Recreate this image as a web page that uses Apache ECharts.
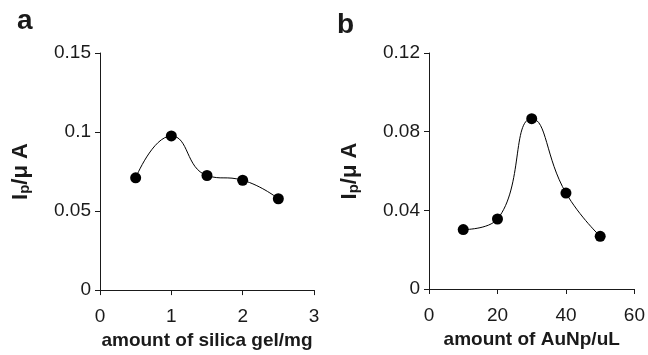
<!DOCTYPE html>
<html>
<head>
<meta charset="utf-8">
<script src="https://cdn.jsdelivr.net/npm/echarts@6/dist/echarts.min.js"></script>
<style>
  html, body { margin: 0; padding: 0; background: #fff; }
  #chart { width: 648px; height: 355px; }
</style>
</head>
<body>
<div id="chart"></div>
<script>
// panel a: silica gel
const silicaX = [0.5, 1, 1.5, 2, 2.5];
const silicaIp = [0.071, 0.0975, 0.0725, 0.0695, 0.0578];
// panel b: AuNp
const aunpX = [10, 20, 30, 40, 50];
const aunpIp = [0.0302, 0.0356, 0.0866, 0.0488, 0.0268];

const font = "Liberation Sans, Arial, sans-serif";
const ink = "#1a1a1a";

const ipName = "{i|I}{p|p}{i|/\u03bc A}";
const ipRich = {
  i: { fontSize: 22, fontWeight: "bold", fontFamily: font, color: ink },
  p: { fontSize: 15, fontWeight: "bold", fontFamily: font, color: ink, verticalAlign: "bottom", padding: [8, 0, 0, 0] },
};

function xAxisCfg(idx, max, interval, name) {
  return {
    type: "value",
    gridIndex: idx,
    min: 0,
    max: max,
    interval: interval,
    name: name,
    nameLocation: "middle",
    nameGap: 37,
    nameTextStyle: { fontSize: 19, fontWeight: "bold", fontFamily: font, color: ink },
    axisLine: { lineStyle: { color: ink, width: 1 } },
    axisTick: { show: true, inside: false, length: 5, lineStyle: { color: ink } },
    axisLabel: { fontSize: 19, fontFamily: font, color: ink, margin: 17 },
    splitLine: { show: false },
  };
}

function yAxisCfg(idx, max, interval) {
  return {
    type: "value",
    gridIndex: idx,
    min: 0,
    max: max,
    interval: interval,
    name: ipName,
    nameLocation: "middle",
    nameGap: 68,
    nameTextStyle: { rich: ipRich },
    axisLine: { show: true, lineStyle: { color: ink, width: 1 } },
    axisTick: { show: true, inside: false, length: 5, lineStyle: { color: ink } },
    axisLabel: { fontSize: 19, fontFamily: font, color: ink, margin: 9 },
    splitLine: { show: false },
  };
}

function lineSeries(idx, xs, ys) {
  return {
    type: "line",
    xAxisIndex: idx,
    yAxisIndex: idx,
    data: xs.map((x, i) => [x, ys[i]]),
    smooth: 0.5,
    symbol: "circle",
    symbolSize: 11,
    itemStyle: { color: "#000" },
    lineStyle: { color: "#000", width: 1 },
  };
}

const chart = echarts.init(document.getElementById("chart"));
chart.setOption({
  backgroundColor: "#fff",
  animation: false,
  title: [
    { text: "a", left: 12, top: 2, textStyle: { fontSize: 28, fontWeight: "bold", fontFamily: font, color: ink } },
    { text: "b", left: 332, top: 6, textStyle: { fontSize: 28, fontWeight: "bold", fontFamily: font, color: ink } },
  ],
  grid: [
    { left: 100, top: 53, width: 214, height: 239 },
    { left: 429, top: 53, width: 207, height: 236 },
  ],
  xAxis: [
    xAxisCfg(0, 3, 1, "amount of silica gel/mg"),
    xAxisCfg(1, 60, 20, "amount of AuNp/uL"),
  ],
  yAxis: [
    yAxisCfg(0, 0.15, 0.05),
    yAxisCfg(1, 0.12, 0.04),
  ],
  series: [
    lineSeries(0, silicaX, silicaIp),
    lineSeries(1, aunpX, aunpIp),
  ],
});
</script>
</body>
</html>
